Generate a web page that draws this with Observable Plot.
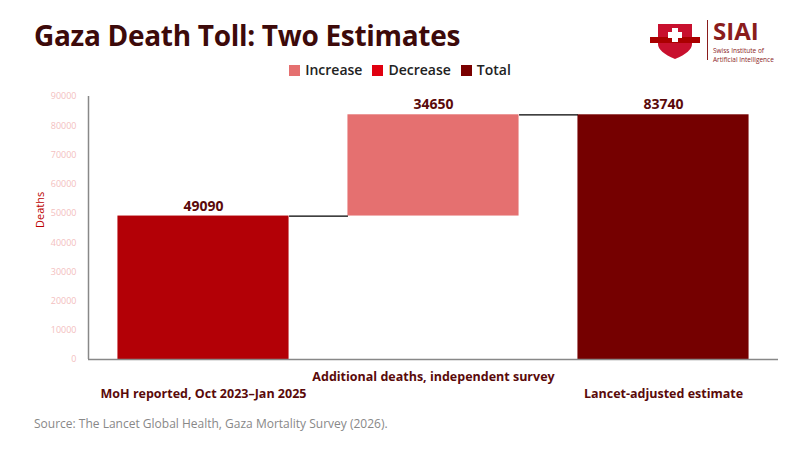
<!DOCTYPE html>
<html><head><meta charset="utf-8">
<script src="https://cdn.jsdelivr.net/npm/d3@7"></script>
<script src="https://cdn.jsdelivr.net/npm/@observablehq/plot@0.6"></script>
<style>
body{margin:0;background:#fff;font-family:"Open Sans",sans-serif;}
#wrap{position:relative;width:800px;height:450px;}
h1{position:absolute;left:34px;top:16px;margin:0;font-size:28px;font-weight:700;color:#3d0a0a;font-family:"Open Sans",sans-serif;letter-spacing:-0.3px;}
#legend{position:absolute;top:60px;left:0;width:800px;text-align:center;font-size:14px;font-weight:600;color:#222;}
#legend span{margin:0 5px;}
#legend i{display:inline-block;width:11px;height:11px;margin-right:5px;vertical-align:-1px;}
#chart{position:absolute;top:85px;left:0;}
#src{position:absolute;left:34px;top:415px;font-size:12px;color:#888;}
#logo{position:absolute;left:648px;top:16px;display:flex;align-items:center;}
</style></head><body>
<div id="wrap">
<h1>Gaza Death Toll: Two Estimates</h1>
<div id="logo">
<svg width="54" height="40" viewBox="0 0 54 40"><path d="M10 4 H44 V24 Q44 32 27 39 Q10 32 10 24 Z" fill="#c8102e"/><rect x="2" y="17" width="50" height="6" fill="#a00"/><rect x="24" y="8" width="6" height="14" fill="#fff"/><rect x="20" y="12" width="14" height="6" fill="#fff"/></svg>
<div style="width:1px;height:40px;background:#8a1c1c;margin:0 5px"></div>
<div><div style="font-size:24px;font-weight:700;color:#8a1c1c;line-height:30px;font-family:'Open Sans'">SIAI</div><div style="font-size:6.5px;color:#8a1c1c;line-height:9px;white-space:nowrap">Swiss Institute of</div><div style="font-size:6.5px;color:#8a1c1c;line-height:9px;white-space:nowrap">Artificial Intelligence</div></div>
</div>
<div id="legend"><span><i style="background:#e57070"></i>Increase</span><span><i style="background:#e00010"></i>Decrease</span><span><i style="background:#7a0000"></i>Total</span></div>
<div id="chart"></div>
<div id="src">Source: The Lancet Global Health, Gaza Mortality Survey (2026).</div>
</div>
<script>
const categories = ["MoH reported, Oct 2023–Jan 2025","Additional deaths, independent survey","Lancet-adjusted estimate"];
const values = [49090, 34650, 83740];
const kinds = ["Total","Increase","Total"];
const barColors = ["#b30006","#e57070","#750000"];
const yTicks = [0,10000,20000,30000,40000,50000,60000,70000,80000,90000];

const bars = categories.map((c,i)=>{
  let lo=0, hi=values[i];
  if(kinds[i]==="Increase"){lo=values[i-1]; hi=values[i-1]+values[i];}
  return {i, c, lo, hi, v: values[i], color: barColors[i]};
});
const hw = 0.372;
const links = bars.slice(0,-1).map((b,k)=>({x1:b.i+hw, x2:b.i+1-hw, y:b.hi}));

const chart = Plot.plot({
  width:800, height:320, marginTop:11, marginBottom:46, marginLeft:88, marginRight:22,
  x:{domain:[-0.5,2.5], axis:null},
  y:{domain:[0,90000], ticks:yTicks, tickFormat:d=>String(d), label:null, tickSize:0},
  style:{fontFamily:"Open Sans", fontSize:"9px"},
  marks:[
    Plot.rectY(bars,{x1:d=>d.i-hw, x2:d=>d.i+hw, y1:"lo", y2:"hi", fill:"color"}),
    Plot.link(links,{x1:"x1", x2:"x2", y1:"y", y2:"y", stroke:"#000", strokeWidth:1.2}),
    Plot.text(bars,{x:"i", y:"hi", text:d=>String(d.v), dy:-10, fontSize:14, fontWeight:"bold", fill:"#5a0a0a"}),
    Plot.text(bars.filter(d=>d.i!==1),{x:"i", y:0, text:"c", dy:34, fontSize:12.5, fontWeight:"bold", fill:"#5a0a0a"}),
    Plot.text(bars.filter(d=>d.i===1),{x:"i", y:0, text:"c", dy:17, fontSize:12.5, fontWeight:"bold", fill:"#5a0a0a"}),
    Plot.ruleX([-0.5],{stroke:"#888", strokeWidth:1.5}),
    Plot.ruleY([0],{stroke:"#888", strokeWidth:1.5}),
    Plot.axisY({ticks:yTicks, tickFormat:d=>String(d), tickSize:0, tickPadding:12, color:"#f3c0c0", fontSize:9, label:null}),
    Plot.text(["Deaths"],{frameAnchor:"left", dx:-48, rotate:-90, fill:"#b00", fontSize:11})
  ]
});
document.getElementById("chart").appendChild(chart);
</script>
</body></html>
